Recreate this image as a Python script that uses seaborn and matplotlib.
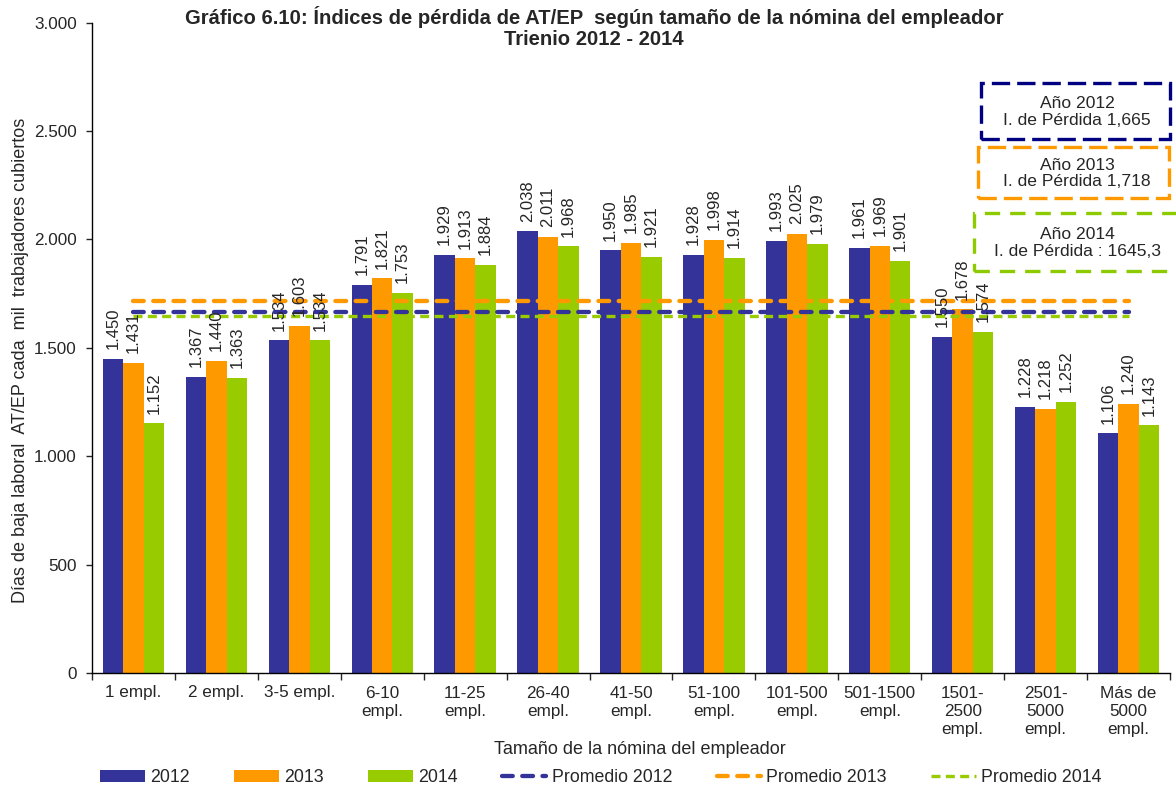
import numpy as np
import pandas as pd
import seaborn as sns
import matplotlib.pyplot as plt
from matplotlib.ticker import FuncFormatter, FixedLocator
from matplotlib.patches import Rectangle, Patch
from matplotlib.lines import Line2D

# datos
categorias = ["1 empl.", "2 empl.", "3-5 empl.", "6-10\nempl.", "11-25\nempl.",
              "26-40\nempl.", "41-50\nempl.", "51-100\nempl.", "101-500\nempl.",
              "501-1500\nempl.", "1501-\n2500\nempl.", "2501-\n5000\nempl.",
              "Más de\n5000\nempl."]
anios = ["2012", "2013", "2014"]
valores_2012 = [1450, 1367, 1534, 1791, 1929, 2038, 1950, 1928, 1993, 1961, 1550, 1228, 1106]
valores_2013 = [1431, 1440, 1603, 1821, 1913, 2011, 1985, 1998, 2025, 1969, 1678, 1218, 1240]
valores_2014 = [1152, 1363, 1534, 1753, 1884, 1968, 1921, 1914, 1979, 1901, 1574, 1252, 1143]
promedios = [1665, 1718, 1645.3]
textos_caja = ["Año 2012\nI. de Pérdida 1,665",
               "Año 2013\nI. de Pérdida 1,718",
               "Año 2014\nI. de Pérdida : 1645,3"]

colores = ["#333399", "#FF9900", "#99CC00"]
colores_caja = ["#000080", "#FF9900", "#8DCB00"]

df = pd.DataFrame({
    "tamano": categorias * 3,
    "indice": valores_2012 + valores_2013 + valores_2014,
    "anio": [a for a in anios for _ in categorias],
})

sns.set_style("white")
plt.rcParams["font.family"] = ["Liberation Sans", "DejaVu Sans"]


def miles(v, pos=None):
    return f"{v:,.0f}".replace(",", ".")


fig = plt.figure(figsize=(11.76, 7.88), dpi=100)
ax = fig.add_axes([92 / 1176, 1 - 673 / 788, (1170 - 92) / 1176, (673 - 22.7) / 788])

sns.barplot(data=df, x="tamano", y="indice", hue="anio", palette=colores,
            width=0.74, saturation=1, gap=0, linewidth=0, legend=False, ax=ax)

for cont, vals in zip(ax.containers, [valores_2012, valores_2013, valores_2014]):
    ax.bar_label(cont, labels=[miles(v) for v in vals], rotation=90,
                 padding=7, fontsize=12)

# lineas de promedio
xs = np.arange(len(categorias))
estilos = [
    dict(lw=3.1, dashes=(2.5, 2.2), dash_capstyle="round"),
    dict(lw=3.1, dashes=(2.5, 2.2), dash_capstyle="round"),
    dict(lw=2.4, dashes=(2.7, 1.6), dash_capstyle="butt"),
]
for prom, col, est in zip(promedios, colores, estilos):
    ax.plot(xs, [prom] * len(xs), color=col, **est)

ax.set_ylim(0, 3000)
ax.set_xlim(-0.5, len(categorias) - 0.5)
ax.yaxis.set_major_locator(FixedLocator(np.arange(0, 3001, 500)))
ax.yaxis.set_major_formatter(FuncFormatter(miles))
ax.set_xticks(np.arange(-0.5, len(categorias), 1.0))
ax.set_xticklabels([])
ax.set_xticks(xs, minor=True)
ax.set_xticklabels(categorias, minor=True, fontsize=12.3, linespacing=1.28)
ax.tick_params(axis="x", which="major", direction="out", length=5, width=1, bottom=True)
ax.tick_params(axis="x", which="minor", length=0, pad=9)
ax.tick_params(axis="y", direction="out", length=4, width=1, left=True, labelsize=12.3, pad=7)
for s in ["top", "right"]:
    ax.spines[s].set_visible(False)
for s in ["left", "bottom"]:
    ax.spines[s].set_color("black")
    ax.spines[s].set_linewidth(1)

ax.set_xlabel("")
ax.set_ylabel("Días de baja laboral  AT/EP cada  mil  trabajadores cubiertos", fontsize=13)
ax.yaxis.set_label_coords(-0.058, 0.48)
fig.text(640 / 1176, 1 - 750 / 788, "Tamaño de la nómina del empleador",
         ha="center", va="center", fontsize=13)

fig.text(0.505, 0.992, "Gráfico 6.10: Índices de pérdida de AT/EP  según tamaño de la nómina del empleador\nTrienio 2012 - 2014",
         ha="center", va="top", fontsize=14.6, fontweight="bold", linespacing=1.12)

# cajas con el indice de perdida
cajas = [(981, 83, 1170, 139), (978, 147, 1169, 198), (974, 213, 1200, 271)]
dash_caja = [(0, (5.5, 2.1)), (0, (5.5, 2.1)), (0, (4.6, 3.0))]
for (x0, y0, x1, y1), col, ls, txt in zip(cajas, colores_caja, dash_caja, textos_caja):
    fig.patches.append(Rectangle((x0 / 1176, 1 - y1 / 788), (x1 - x0) / 1176, (y1 - y0) / 788,
                                 transform=fig.transFigure, fill=False, edgecolor=col,
                                 linewidth=2.4, linestyle=ls))
    fig.text(1077 / 1176, 1 - ((y0 + y1) / 2 + 1) / 788, txt, ha="center", va="center",
             fontsize=12.6, linespacing=1.15)

handles = [Patch(facecolor=c, edgecolor="none") for c in colores]
handles += [Line2D([], [], color=c, **e) for c, e in zip(colores, estilos)]
labels = anios + ["Promedio " + a for a in anios]
fig.legend(handles, labels, ncol=6, loc="center", bbox_to_anchor=(601 / 1176, 1 - 778 / 788),
           frameon=False, fontsize=12.8, handlelength=2.5, handleheight=0.65,
           handletextpad=0.3, columnspacing=2.5, borderpad=0)

fig.savefig("out.png", dpi=100)
